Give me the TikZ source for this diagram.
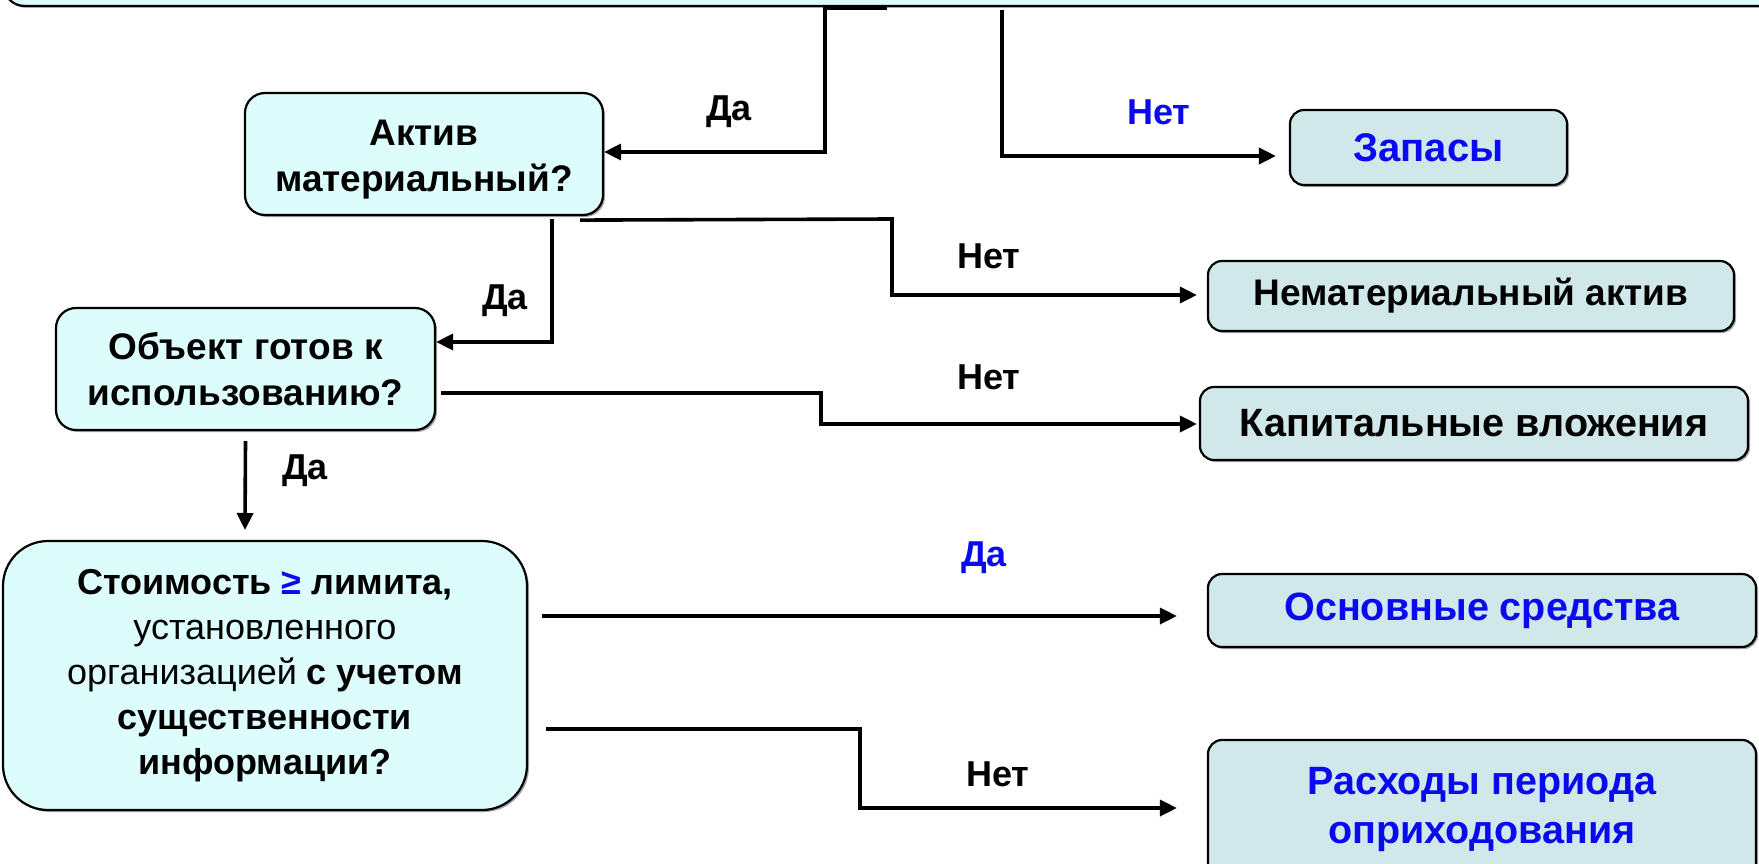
\documentclass[tikz,border=0pt]{standalone}
\usepackage{fontspec}
\setmainfont{Liberation Sans}
\usetikzlibrary{arrows.meta,shadows,calc}
\definecolor{qfill}{RGB}{221,253,253}
\definecolor{rfill}{RGB}{208,232,234}
\definecolor{tblue}{RGB}{10,10,240}
\begin{document}
\begin{tikzpicture}[x=1pt,y=-1pt,
  box/.style={draw=black,line width=2.2pt,align=center,inner sep=0pt,
    drop shadow={shadow xshift=2pt,shadow yshift=-2pt,fill=black!35,opacity=1}},
  qbox/.style={box,fill=qfill,rounded corners=20pt,font=\fontsize{37}{46}\selectfont\bfseries},
  rbox/.style={box,fill=rfill,rounded corners=14pt,font=\fontsize{37}{46}\selectfont\bfseries},
  arr/.style={line width=3.6pt,-{Triangle[length=17pt,width=16pt]}},
  lbl/.style={font=\fontsize{36}{40}\selectfont\bfseries,inner sep=0pt}]
\clip (0,0) rectangle (1759,864);
% top (cut-off) box
\node[qbox,minimum width=1820,minimum height=120,anchor=south west] (top) at (3,7) {};
% question boxes
\node[qbox,minimum width=358,minimum height=122] (akt) at (424,154) {\raisebox{-6pt}[\height][\depth]{\parbox{358pt}{\centering Актив\\материальный?}}};
\node[qbox,minimum width=379,minimum height=122] (obj) at (245.5,369) {Объект готов к\\использованию?};
\node[qbox,rounded corners=45pt,minimum width=524,minimum height=269,font=\fontsize{36}{45}\selectfont] (sto) at (265,675.5)
  {\textbf{Стоимость {\color{tblue}≥} лимита,}\\установленного\\организацией \textbf{с учетом}\\\textbf{существенности}\\\textbf{информации?}};
% result boxes
\node[rbox,minimum width=277,minimum height=75,text=tblue,font=\fontsize{40}{46}\selectfont\bfseries] (zap) at (1428.5,147.5) {Запасы};
\node[rbox,minimum width=526,minimum height=70] (nem) at (1471,296) {Нематериальный актив};
\node[rbox,minimum width=548,minimum height=73,font=\fontsize{39.5}{46}\selectfont\bfseries] (kap) at (1474,423.5) {Капитальные вложения};
\node[rbox,minimum width=548,minimum height=73,text=tblue,font=\fontsize{39.5}{46}\selectfont\bfseries] (osn) at (1482,610.5) {Основные средства};
\node[rbox,minimum width=548,minimum height=140,text=tblue,font=\fontsize{39.5}{49}\selectfont\bfseries] (ras) at (1482,810) {Расходы периода\\оприходования};
% free ends
\coordinate (t1) at (887,8);
\coordinate (t2) at (1002,10);
% connectors
\draw[arr] (t1) -- (825,8) -- (825,152) -- (akt.east |- 0,152);
\draw[arr] (t2) -- (1002,156) -- ($(zap.west)+(-13,8.5)$);
\draw[arr] (akt.south -| 580,0) ++(0,4) -- (892,219) -- (892,295) -- ($(nem.west)+(-10,-1)$);
\draw[arr] (akt.south -| 552,0) ++(0,3) -- (552,342) -- (obj.east |- 0,342);
\draw[arr] ($(obj.east)+(5,24)$) -- (821,393) -- (821,424) -- ($(kap.west)+(-2,0.5)$);
\draw[arr] ($(obj.south)+(0,10)$) -- (245,530);
\draw[arr] ($(sto.east)+(14,-59.5)$) -- ($(osn.west)+(-30,5.5)$);
\draw[arr] ($(sto.east)+(18,53.5)$) -- (860,729) -- (860,808) -- ($(ras.west)+(-30,-2)$);
% labels
\node[lbl] (l1) at (729,112) {Да};
\node[lbl,text=tblue] (l2) at (1159,112) {Нет};
\node[lbl] (l3) at (989,256) {Нет};
\node[lbl] (l4) at (505,301) {Да};
\node[lbl] (l5) at (989,377) {Нет};
\node[lbl] (l6) at (305,471) {Да};
\node[lbl,text=tblue] (l7) at (984,558) {Да};
\node[lbl] (l8) at (998,774) {Нет};
\end{tikzpicture}
\end{document}
